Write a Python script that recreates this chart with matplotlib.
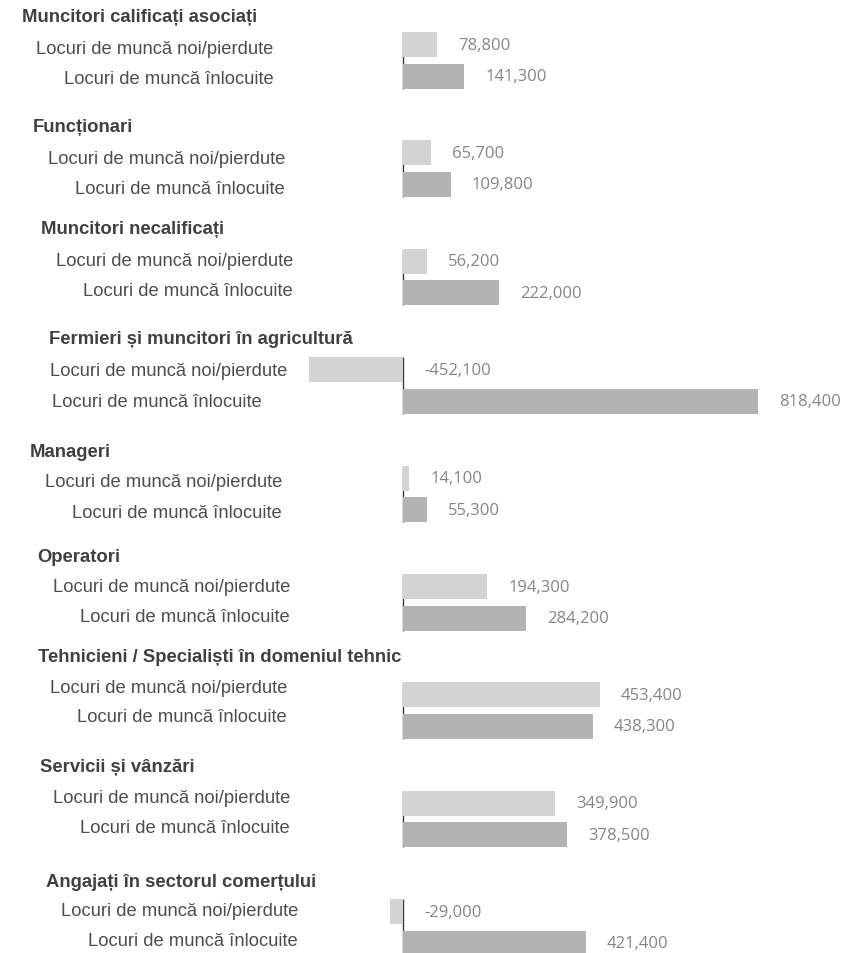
import matplotlib
matplotlib.use("Agg")
import matplotlib.pyplot as plt

# ---- data ----
categories = [
    "Muncitori calificați asociați",
    "Funcționari",
    "Muncitori necalificați",
    "Fermieri și muncitori în agricultură",
    "Manageri",
    "Operatori",
    "Tehnicieni / Specialiști în domeniul tehnic",
    "Servicii și vânzări",
    "Angajați în sectorul comerțului",
]
series_labels = ["Locuri de muncă noi/pierdute", "Locuri de muncă înlocuite"]
new_lost = [78800, 65700, 56200, -452100, 14100, 194300, 453400, 349900, -29000]
replaced = [141300, 109800, 222000, 818400, 55300, 284200, 438300, 378500, 421400]

# ---- layout (pixels in an 848x954 figure) ----
W, H = 848, 954
header_x = [22, 33, 41, 49, 30, 37, 38, 40, 46]
header_y = [18, 128, 229, 339, 453, 557, 658, 768, 883]
noi_right = [273, 285, 293, 287, 282, 290, 287, 290, 298]
inl_right = [274, 285, 293, 262, 282, 290, 287, 290, 298]
noi_y = [49, 160, 262, 372, 483, 588, 689, 799, 912]
inl_y = [80, 189, 291, 403, 513, 618, 718, 829, 942]

row_px = 31.5
group_px = 108.4
first_px = 45.5
G = group_px / row_px
bar_h = 25 / row_px

zero_px = 403.0
scale = 355.0 / 818400  # px per unit
ax_left_px = 309.0

c_light = "#d3d3d3"
c_dark = "#b3b3b3"
c_val = "#858585"
c_txt = "#4d4d4d"

fig = plt.figure(figsize=(W / 100, H / 100), dpi=100, facecolor="white")
ax = fig.add_axes([ax_left_px / W, 0, 1 - ax_left_px / W, 1])
ax.set_xlim(-(zero_px - ax_left_px) / scale, (W - zero_px) / scale)
ax.set_ylim((H - first_px) / row_px, -first_px / row_px)
ax.axis("off")

pos1 = [i * G for i in range(len(categories))]
pos2 = [i * G + 1 for i in range(len(categories))]

ax.vlines([0] * len(pos1), [p - bar_h / 2 for p in pos1], [p + bar_h / 2 for p in pos2],
          colors="#3a3a3a", linewidth=1.0, zorder=1)
ax.barh(pos1, new_lost, height=bar_h, color=c_light, zorder=2)
ax.barh(pos2, replaced, height=bar_h, color=c_dark, zorder=2)

for p, v in zip(pos1 + pos2, new_lost + replaced):
    ax.annotate(f"{v:,}", xy=(max(v, 0), p), xytext=(21, 0), textcoords="offset pixels",
                ha="left", va="center", fontsize=12, color=c_val, family="Open Sans")

def fy(py):
    return 1 - py / H

for i, cat in enumerate(categories):
    fig.text(header_x[i] / W, fy(header_y[i]), cat, ha="left", va="center",
             fontsize=13.3, fontweight="bold", color="#404040", family="Liberation Sans")
    fig.text(noi_right[i] / W, fy(noi_y[i]), series_labels[0], ha="right", va="center",
             fontsize=13.2, color=c_txt, family="Liberation Sans")
    fig.text(inl_right[i] / W, fy(inl_y[i]), series_labels[1], ha="right", va="center",
             fontsize=13.2, color=c_txt, family="Liberation Sans")

fig.savefig("out.png", dpi=100, facecolor="white")
